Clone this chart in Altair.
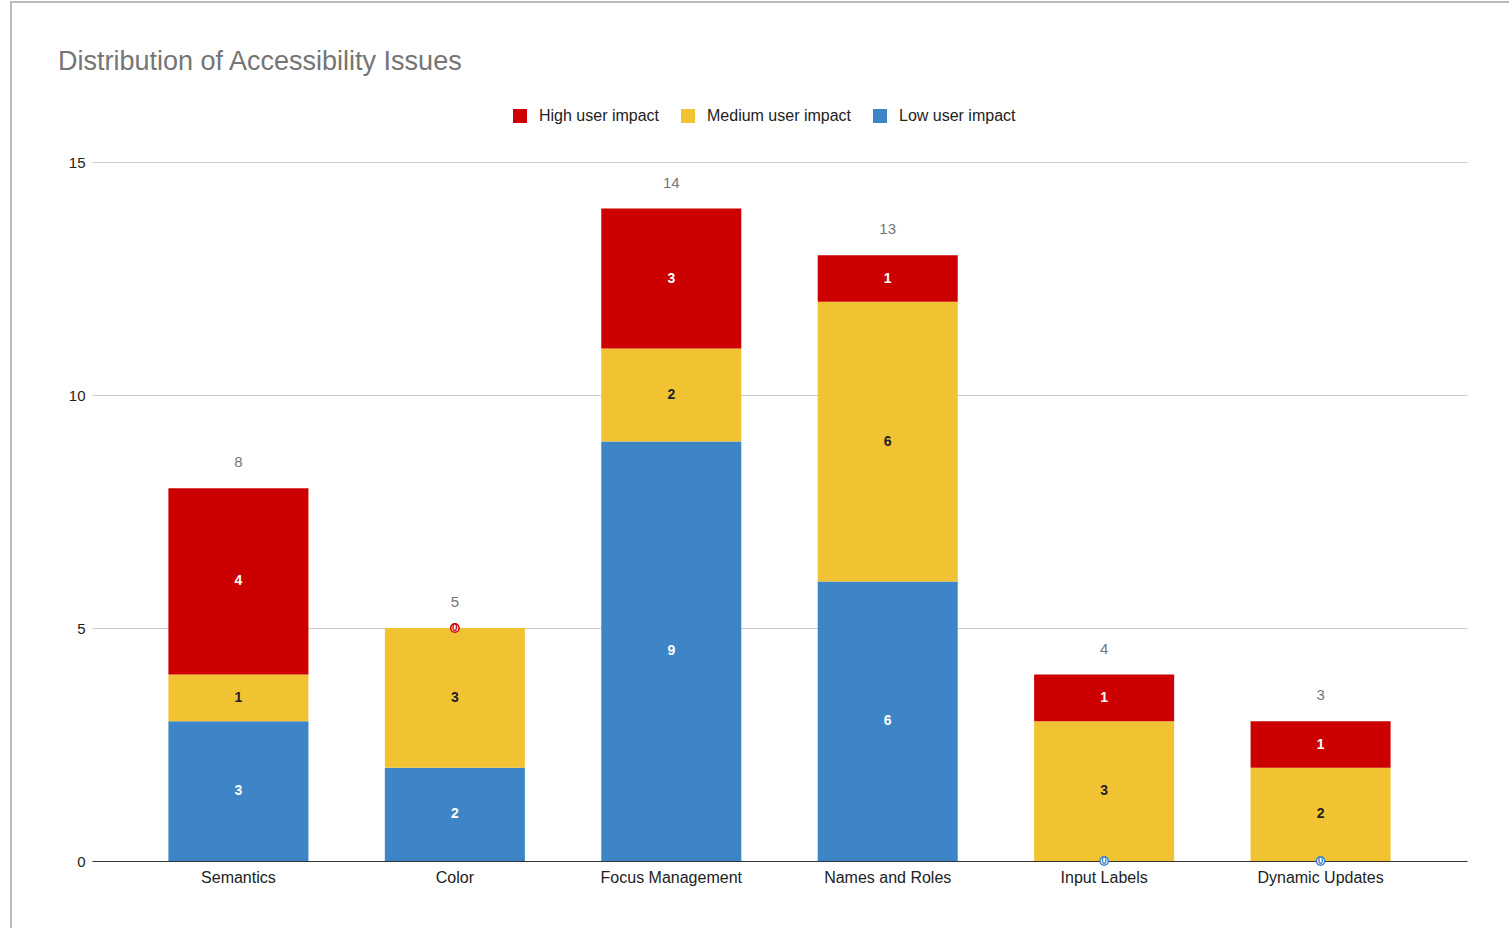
import altair as alt
import pandas as pd

categories = ["Semantics", "Color", "Focus Management", "Names and Roles", "Input Labels", "Dynamic Updates"]
low_values = [3, 2, 9, 6, 0, 0]
medium_values = [1, 3, 2, 6, 3, 2]
high_values = [4, 0, 3, 1, 1, 1]
series_names = ["High user impact", "Medium user impact", "Low user impact"]
series_colors = ["#cc0000", "#f1c232", "#3d85c6"]
y_ticks = [0, 5, 10, 15]

rows = []
for i, c in enumerate(categories):
    rows.append({"category": c, "impact": "Low user impact", "value": low_values[i], "order": 0})
    rows.append({"category": c, "impact": "Medium user impact", "value": medium_values[i], "order": 1})
    rows.append({"category": c, "impact": "High user impact", "value": high_values[i], "order": 2})
df = pd.DataFrame(rows)

FONT = "Liberation Sans"

x_enc = alt.X("category:N", sort=categories, title=None,
              scale=alt.Scale(paddingInner=0.353, paddingOuter=0.353),
              axis=alt.Axis(labelAngle=0, labelFontSize=16, labelColor="#222222", labelPadding=8,
                            ticks=False, domainColor="#333333", domainWidth=1, labelFont=FONT))
y_scale = alt.Scale(domain=[0, 15], nice=False)

base = alt.Chart(df).transform_stack(
    stack="value", as_=["y0", "y1"], groupby=["category"], sort=[alt.SortField("order")]
).transform_calculate(mid="(datum.y0 + datum.y1) / 2")

bars = base.mark_bar().encode(
    x=x_enc,
    y=alt.Y("y0:Q", scale=y_scale, title=None,
            axis=alt.Axis(values=y_ticks, grid=True, gridColor="#cccccc", domain=False, ticks=False,
                          labelFontSize=15, labelColor="#222222", labelPadding=7, labelFont=FONT)),
    y2="y1:Q",
    color=alt.Color("impact:N", sort=series_names,
                    scale=alt.Scale(domain=series_names, range=series_colors),
                    legend=alt.Legend(title=None, orient="none", legendX=420, legendY=-54,
                                      direction="horizontal", symbolType="square", symbolSize=196,
                                      symbolStrokeWidth=0, labelFontSize=16, labelColor="#222222",
                                      labelFont=FONT, columnPadding=20, labelOffset=11)),
)

seg_labels = base.transform_filter("datum.value > 0").mark_text(
    fontSize=14, fontWeight="bold", font=FONT, baseline="middle"
).encode(
    x=alt.X("category:N", sort=categories),
    y=alt.Y("mid:Q", scale=y_scale),
    text="value:Q",
    color=alt.condition("datum.impact == 'Medium user impact'", alt.value("#222222"), alt.value("#ffffff")),
)

zero_badges = base.transform_filter("datum.value == 0").mark_point(
    shape="circle", filled=False, size=70, strokeWidth=1.5, fill="white", fillOpacity=1
).encode(
    x=alt.X("category:N", sort=categories),
    y=alt.Y("mid:Q", scale=y_scale),
    stroke=alt.Stroke("impact:N", scale=alt.Scale(domain=series_names, range=series_colors), legend=None),
)
zero_text = base.transform_filter("datum.value == 0").mark_text(
    fontSize=10, fontWeight="bold", font=FONT, baseline="middle"
).encode(
    x=alt.X("category:N", sort=categories),
    y=alt.Y("mid:Q", scale=y_scale),
    text="value:Q",
    color=alt.Color("impact:N", scale=alt.Scale(domain=series_names, range=series_colors), legend=None),
)

totals = alt.Chart(df).transform_aggregate(
    total="sum(value)", groupby=["category"]
).mark_text(fontSize=15, font=FONT, color="#757575", baseline="middle", dy=-26).encode(
    x=alt.X("category:N", sort=categories),
    y=alt.Y("total:Q", scale=y_scale),
    text="total:Q",
)

border_left = alt.Chart(df).mark_rule(color="#bbbbbb", strokeWidth=1.5).encode(
    x=alt.value(-81), y=alt.value(-160), y2=alt.value(770)
)
border_top = alt.Chart(df).mark_rule(color="#bbbbbb", strokeWidth=1.5).encode(
    y=alt.value(-160), x=alt.value(-82), x2=alt.value(1420)
)

chart = alt.layer(bars, seg_labels, zero_badges, zero_text, totals, border_left, border_top).properties(
    width=1375, height=699,
    autosize=alt.AutoSizeParams(type="none"),
    padding={"left": 92, "top": 162, "right": 42, "bottom": 67},
    title=alt.TitleParams("Distribution of Accessibility Issues", anchor="start", frame="group",
                          dx=-34, dy=114, offset=18, baseline="alphabetic", fontSize=27, fontWeight="normal",
                          color="#757575", font=FONT),
    background="white",
).resolve_scale(color="independent").configure_view(stroke=None)

chart.save("out.html", embed_options={"renderer": "svg", "actions": False})
